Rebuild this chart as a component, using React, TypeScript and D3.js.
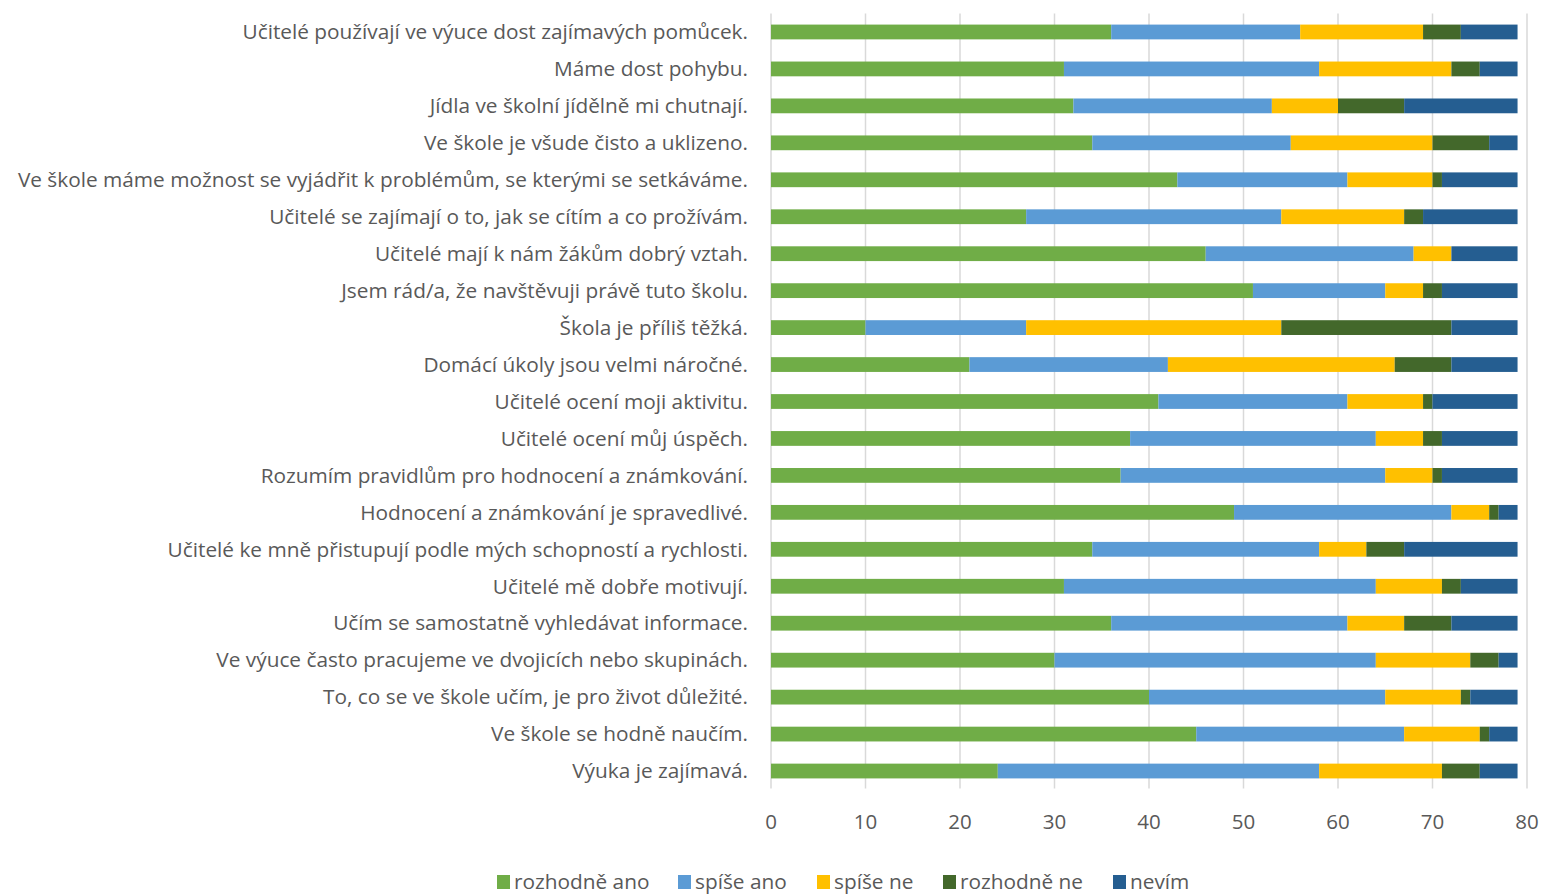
import { useEffect, useRef } from "react";
import * as d3 from "d3";

const categories = [
  "Učitelé používají ve výuce dost zajímavých pomůcek.",
  "Máme dost pohybu.",
  "Jídla ve školní jídělně mi chutnají.",
  "Ve škole je všude čisto a uklizeno.",
  "Ve škole máme možnost se vyjádřit k problémům, se kterými se setkáváme.",
  "Učitelé se zajímají o to, jak se cítím a co prožívám.",
  "Učitelé mají k nám žákům dobrý vztah.",
  "Jsem rád/a, že navštěvuji právě tuto školu.",
  "Škola je příliš těžká.",
  "Domácí úkoly jsou velmi náročné.",
  "Učitelé ocení moji aktivitu.",
  "Učitelé ocení můj úspěch.",
  "Rozumím pravidlům pro hodnocení a známkování.",
  "Hodnocení a známkování je spravedlivé.",
  "Učitelé ke mně přistupují podle mých schopností a rychlosti.",
  "Učitelé mě dobře motivují.",
  "Učím se samostatně vyhledávat informace.",
  "Ve výuce často pracujeme ve dvojicích nebo skupinách.",
  "To, co se ve škole učím, je pro život důležité.",
  "Ve škole se hodně naučím.",
  "Výuka je zajímavá.",
];

const seriesNames = ["rozhodně ano", "spíše ano", "spíše ne", "rozhodně ne", "nevím"];
const seriesColors = ["#70AD47", "#5B9BD5", "#FFC000", "#43682B", "#255E91"];

const rozhodneAno = [36, 31, 32, 34, 43, 27, 46, 51, 10, 21, 41, 38, 37, 49, 34, 31, 36, 30, 40, 45, 24];
const spiseAno = [20, 27, 21, 21, 18, 27, 22, 14, 17, 21, 20, 26, 28, 23, 24, 33, 25, 34, 25, 22, 34];
const spiseNe = [13, 14, 7, 15, 9, 13, 4, 4, 27, 24, 8, 5, 5, 4, 5, 7, 6, 10, 8, 8, 13];
const rozhodneNe = [4, 3, 7, 6, 1, 2, 0, 2, 18, 6, 1, 2, 1, 1, 4, 2, 5, 3, 1, 1, 4];
const nevim = [6, 4, 12, 3, 8, 10, 7, 8, 7, 7, 9, 8, 8, 2, 12, 6, 7, 2, 5, 3, 4];

const xTicks = [0, 10, 20, 30, 40, 50, 60, 70, 80];

const W = 1544;
const H = 894;
const FONT = "'Open Sans', 'Noto Sans', sans-serif";

const App = () => {
  const svgRef = useRef<SVGSVGElement | null>(null);

  useEffect(() => {
    const svg = d3.select(svgRef.current);
    svg.selectAll("*").remove();

    const left = 771,
      right = 1527,
      top = 13.5,
      bottom = 789.5;

    const x = d3.scaleLinear().domain([0, 80]).range([left, right]);
    const y = d3
      .scaleBand()
      .domain(categories)
      .range([top, bottom])
      .paddingInner(0.6)
      .paddingOuter(0.3);

    const table = categories.map((c, i) => ({
      cat: c,
      [seriesNames[0]]: rozhodneAno[i],
      [seriesNames[1]]: spiseAno[i],
      [seriesNames[2]]: spiseNe[i],
      [seriesNames[3]]: rozhodneNe[i],
      [seriesNames[4]]: nevim[i],
    }));
    const stacked = d3.stack<any>().keys(seriesNames)(table);

    // gridlines
    svg
      .append("g")
      .selectAll("line")
      .data(xTicks)
      .join("line")
      .attr("x1", (d) => x(d))
      .attr("x2", (d) => x(d))
      .attr("y1", top)
      .attr("y2", bottom - 1)
      .attr("stroke", "#D9D9D9")
      .attr("stroke-width", 1.5);

    // bars
    svg
      .append("g")
      .selectAll("g")
      .data(stacked)
      .join("g")
      .attr("fill", (_, i) => seriesColors[i])
      .selectAll("rect")
      .data((s) => s)
      .join("rect")
      .attr("x", (d) => x(d[0]))
      .attr("width", (d) => x(d[1]) - x(d[0]))
      .attr("y", (d) => y(d.data.cat)!)
      .attr("height", y.bandwidth());

    // category labels
    svg
      .append("g")
      .selectAll("text")
      .data(categories)
      .join("text")
      .attr("x", 748)
      .attr("y", (d) => y(d)! + y.bandwidth() / 2)
      .attr("dy", "0.35em")
      .attr("text-anchor", "end")
      .attr("font-family", FONT)
      .attr("font-size", 20.8)
      .attr("fill", "#595959")
      .text((d) => d);

    // x tick labels
    svg
      .append("g")
      .selectAll("text")
      .data(xTicks)
      .join("text")
      .attr("x", (d) => x(d))
      .attr("y", 822)
      .attr("dy", "0.35em")
      .attr("text-anchor", "middle")
      .attr("font-family", FONT)
      .attr("font-size", 20.5)
      .attr("fill", "#595959")
      .text((d) => d);

    // legend
    const legendX = [497, 678, 817, 943, 1113];
    const lg = svg
      .append("g")
      .selectAll("g")
      .data(seriesNames)
      .join("g")
      .attr("transform", (_, i) => `translate(${legendX[i]},882)`);
    lg.append("rect")
      .attr("x", 0)
      .attr("y", -7)
      .attr("width", 13)
      .attr("height", 14)
      .attr("fill", (_, i) => seriesColors[i]);
    lg.append("text")
      .attr("x", 17)
      .attr("y", 0)
      .attr("dy", "0.35em")
      .attr("font-family", FONT)
      .attr("font-size", 20.8)
      .attr("fill", "#595959")
      .text((d) => d);
  }, []);

  return (
    <svg
      ref={svgRef}
      width={W}
      height={H}
      style={{ position: "absolute", left: 0, top: 0, background: "#fff" }}
    ></svg>
  );
};

export default App;
